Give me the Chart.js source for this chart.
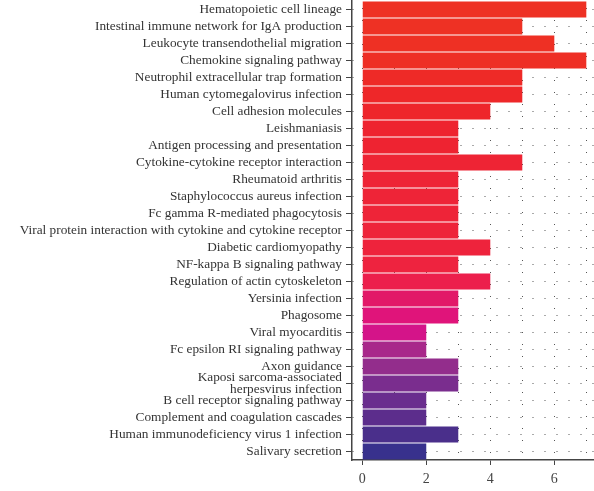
<!DOCTYPE html>
<html>
<head>
<meta charset="utf-8">
<script src="https://cdn.jsdelivr.net/npm/chart.js@4/dist/chart.umd.min.js"></script>
<style>
  html, body { margin: 0; padding: 0; background: #fff; }
  #wrap { width: 594px; height: 491px; position: relative; }
</style>
</head>
<body>
<div id="wrap"><canvas id="c"></canvas></div>
<script>
// KEGG pathway names (top to bottom)
const pathways = [
  "Hematopoietic cell lineage",
  "Intestinal immune network for IgA production",
  "Leukocyte transendothelial migration",
  "Chemokine signaling pathway",
  "Neutrophil extracellular trap formation",
  "Human cytomegalovirus infection",
  "Cell adhesion molecules",
  "Leishmaniasis",
  "Antigen processing and presentation",
  "Cytokine-cytokine receptor interaction",
  "Rheumatoid arthritis",
  "Staphylococcus aureus infection",
  "Fc gamma R-mediated phagocytosis",
  "Viral protein interaction with cytokine and cytokine receptor",
  "Diabetic cardiomyopathy",
  "NF-kappa B signaling pathway",
  "Regulation of actin cytoskeleton",
  "Yersinia infection",
  "Phagosome",
  "Viral myocarditis",
  "Fc epsilon RI signaling pathway",
  "Axon guidance",
  ["Kaposi sarcoma-associated", "herpesvirus infection"],
  "B cell receptor signaling pathway",
  "Complement and coagulation cascades",
  "Human immunodeficiency virus 1 infection",
  "Salivary secretion"
];

// Gene counts per pathway
const geneCounts = [7, 5, 6, 7, 5, 5, 4, 3, 3, 5, 3, 3, 3, 3, 4, 3, 4, 3, 3, 2, 2, 3, 3, 2, 2, 3, 2];

// Bar fill colours, red to indigo
const barColors = [
  "#EE3124", "#EE3124", "#EE3024", "#EE2F25", "#EE2A27", "#EE2729", "#EE252B",
  "#EE232F", "#EE2331", "#EE2434", "#EE2436", "#EE2437", "#EE2438", "#EE243A",
  "#EE233C", "#EE233F", "#EC1F4C", "#E21868", "#E0147A", "#D41489", "#A8288A",
  "#932D8C", "#7A2D8E", "#6A2D8E", "#5C2D8C", "#4A2F8B", "#38318D"
];

// Axis tick values
const xTickValues = [0, 1, 2, 3, 4, 5, 6, 7];
const xLabelledTicks = [0, 2, 4, 6];

const serif = "'Liberation Serif', 'DejaVu Serif', serif";

new Chart(document.getElementById("c"), {
  type: "bar",
  data: {
    labels: pathways,
    datasets: [{
      data: geneCounts,
      backgroundColor: barColors,
      borderWidth: 0,
      barPercentage: 0.93,
      categoryPercentage: 1.0
    }]
  },
  options: {
    indexAxis: "y",
    responsive: true,
    maintainAspectRatio: false,
    animation: false,
    layout: { padding: { top: 1, right: 0, left: 0, bottom: 0 } },
    plugins: { legend: { display: false }, tooltip: { enabled: false } },
    scales: {
      x: {
        type: "linear",
        min: -0.32,
        max: 7.24,
        afterBuildTicks: (scale) => { scale.ticks = xTickValues.map(v => ({ value: v })); },
        afterFit: (scale) => {
          scale.height = 31;
          scale.paddingLeft = 0;
          scale.paddingRight = 0;
        },
        ticks: {
          autoSkip: false,
          maxRotation: 0,
          padding: 6,
          color: "#444",
          font: { family: serif, size: 14 },
          callback: (v) => xLabelledTicks.includes(v) ? String(v) : ""
        },
        grid: {
          color: "#555",
          lineWidth: 1,
          drawTicks: true,
          tickLength: 5,
          tickColor: (ctx) => (ctx.tick && xLabelledTicks.includes(ctx.tick.value)) ? "#444" : "rgba(0,0,0,0)",
          tickWidth: 1,
          tickBorderDash: []
        },
        border: { display: true, color: "#444", width: 1.5, dash: [1, 11], dashOffset: 5 }
      },
      y: {
        type: "category",
        afterFit: (scale) => {
          scale.width = 352;
          scale.paddingTop = 0;
          scale.paddingBottom = 0;
        },
        ticks: {
          autoSkip: false,
          padding: 4,
          color: "#333",
          font: { family: serif, size: 13.3, lineHeight: 0.85 }
        },
        grid: {
          offset: false,
          color: "#555",
          lineWidth: 1,
          drawTicks: true,
          tickLength: 6,
          tickColor: "#444",
          tickWidth: 1,
          tickBorderDash: []
        },
        border: { display: true, color: "#444", width: 1.5, dash: [1, 11] }
      }
    }
  }
});
</script>
</body>
</html>
